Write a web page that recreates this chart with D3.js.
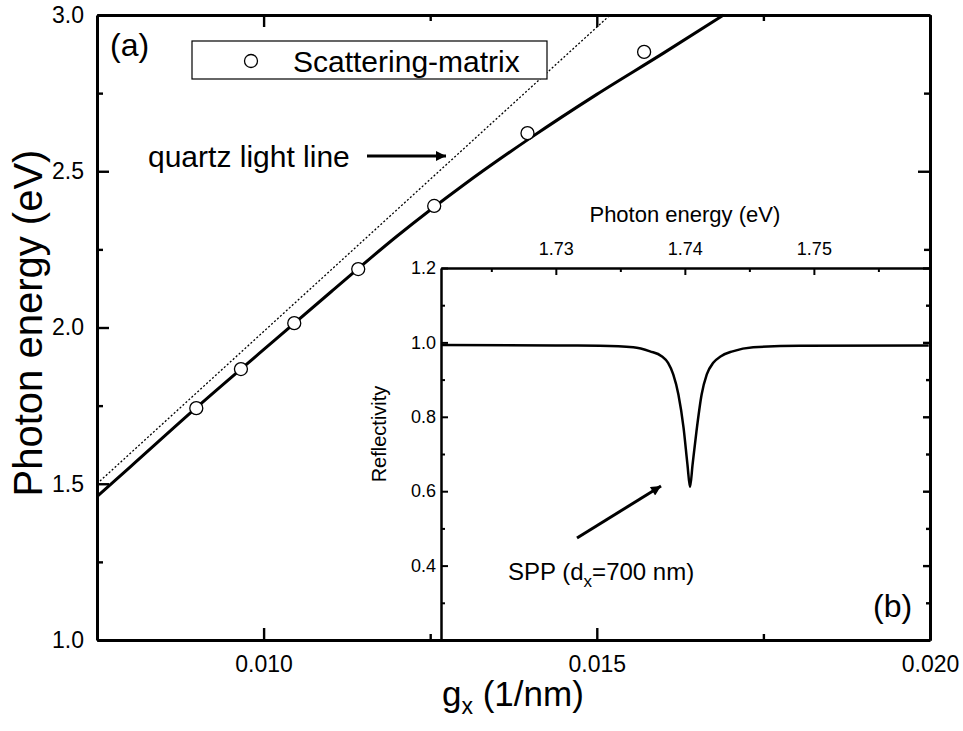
<!DOCTYPE html>
<html>
<head>
<meta charset="utf-8">
<script src="https://cdn.jsdelivr.net/npm/d3@7"></script>
<style>
  body { margin: 0; background: #fff; }
  svg { display: block; font-family: "Liberation Sans", Arial, sans-serif; }
</style>
</head>
<body>
<div id="chart"></div>
<script>
// (a) dispersion: solid SPP curve, quartz light line, scattering-matrix points
const sppCurve = [[0.0075, 1.459], [0.008, 1.554], [0.009, 1.745], [0.010, 1.929], [0.011, 2.112],
                  [0.012, 2.292], [0.013, 2.456], [0.014, 2.606], [0.015, 2.746], [0.016, 2.878], [0.0169, 3.0]];
const lightLine = [[0.0075, 1.50], [0.0152, 3.0]];
const smPoints = [[0.00899, 1.742], [0.00966, 1.867], [0.01046, 2.014], [0.01142, 2.187],
                  [0.01256, 2.389], [0.01396, 2.622], [0.01571, 2.882]];
const gxTicks = [0.010, 0.015, 0.020];
const gxMinor = [0.0125, 0.0175];
const eTicks = [1.0, 1.5, 2.0, 2.5, 3.0];
const eMinor = [1.25, 1.75, 2.25, 2.75];

// (b) reflectivity spectrum
const reflE = [1.7211, 1.7300, 1.7334, 1.7360, 1.7373, 1.7382, 1.7387, 1.7391, 1.7395, 1.7399, 1.7402,
               1.7404, 1.7406, 1.7409, 1.7413, 1.7417, 1.7422, 1.7428, 1.7437, 1.7453, 1.7489, 1.7589];
const reflR = [0.993, 0.992, 0.991, 0.987, 0.976, 0.963, 0.945, 0.914, 0.860, 0.770, 0.672,
               0.611, 0.672, 0.761, 0.860, 0.914, 0.945, 0.963, 0.976, 0.987, 0.991, 0.992];
const peTicks = [1.73, 1.74, 1.75];
const peMinor = [1.725, 1.735, 1.745, 1.755];
const rTicks = [0.4, 0.6, 0.8, 1.0, 1.2];
const rMinor = [0.3, 0.5, 0.7, 0.9, 1.1];

const width = 963, height = 731;
const svg = d3.select("#chart").append("svg")
    .attr("width", width)
    .attr("height", height);

const defs = svg.append("defs");
defs.append("marker")
    .attr("id", "head")
    .attr("markerUnits", "userSpaceOnUse")
    .attr("viewBox", "0 -5 10 10")
    .attr("refX", 10).attr("refY", 0)
    .attr("markerWidth", 20).attr("markerHeight", 10)
    .attr("orient", "auto")
    .append("path").attr("d", "M0,-5L10,0L0,5Z").attr("fill", "black");

// main scales
const x = d3.scaleLinear().domain([0.0075, 0.020]).range([97, 930]);
const y = d3.scaleLinear().domain([1.0, 3.0]).range([640, 15]);

function styleAxis(g, w) {
    g.select(".domain").attr("stroke-width", w).attr("stroke", "black");
    g.selectAll(".tick line").attr("stroke-width", w * 0.8).attr("stroke", "black");
    g.selectAll("text").attr("fill", "black");
}

// frame (top / right without labels)
svg.append("g").attr("transform", "translate(0,15)")
    .call(d3.axisTop(x).tickValues(gxTicks).tickSizeInner(-12).tickSizeOuter(0).tickFormat(""))
    .call(g => styleAxis(g, 3));
svg.append("g").attr("transform", "translate(0,15)")
    .call(d3.axisTop(x).tickValues(gxMinor).tickSizeInner(-6).tickSizeOuter(0).tickFormat(""))
    .call(g => g.select(".domain").remove())
    .call(g => styleAxis(g, 3));
svg.append("g").attr("transform", "translate(930,0)")
    .call(d3.axisRight(y).tickValues(eTicks).tickSizeInner(-12).tickSizeOuter(0).tickFormat(""))
    .call(g => styleAxis(g, 3));
svg.append("g").attr("transform", "translate(930,0)")
    .call(d3.axisRight(y).tickValues(eMinor).tickSizeInner(-6).tickSizeOuter(0).tickFormat(""))
    .call(g => g.select(".domain").remove())
    .call(g => styleAxis(g, 3));

// left axis
svg.append("g").attr("transform", "translate(97,0)")
    .call(d3.axisLeft(y).tickValues(eTicks).tickSizeInner(-12).tickSizeOuter(0)
        .tickPadding(13).tickFormat(d3.format(".1f")))
    .call(g => styleAxis(g, 3))
    .call(g => g.selectAll("text").attr("font-size", 23).attr("font-family", null));
svg.append("g").attr("transform", "translate(97,0)")
    .call(d3.axisLeft(y).tickValues(eMinor).tickSizeInner(-6).tickSizeOuter(0).tickFormat(""))
    .call(g => g.select(".domain").remove())
    .call(g => styleAxis(g, 3));

// light line and SPP curve
svg.append("path")
    .datum(lightLine)
    .attr("d", d3.line().x(d => x(d[0])).y(d => y(d[1])))
    .attr("fill", "none").attr("stroke", "black")
    .attr("stroke-width", 1.3).attr("stroke-dasharray", "2,2");

svg.append("path")
    .datum(sppCurve)
    .attr("d", d3.line().x(d => x(d[0])).y(d => y(d[1])).curve(d3.curveMonotoneX))
    .attr("fill", "none").attr("stroke", "black").attr("stroke-width", 3);

svg.selectAll("circle.sm")
    .data(smPoints)
    .enter().append("circle")
    .attr("class", "sm")
    .attr("cx", d => x(d[0])).attr("cy", d => y(d[1]))
    .attr("r", 6.5)
    .attr("fill", "white").attr("stroke", "black").attr("stroke-width", 1.3);

// legend
svg.append("rect")
    .attr("x", 192).attr("y", 41).attr("width", 355).attr("height", 38)
    .attr("fill", "white").attr("stroke", "black").attr("stroke-width", 1.2);
svg.append("circle")
    .attr("cx", 251).attr("cy", 61).attr("r", 6.5)
    .attr("fill", "white").attr("stroke", "black").attr("stroke-width", 1.3);
svg.append("text")
    .attr("x", 293).attr("y", 72).attr("font-size", 30)
    .text("Scattering-matrix");

svg.append("text").attr("x", 110).attr("y", 56).attr("font-size", 32).text("(a)");

svg.append("text").attr("x", 148).attr("y", 167).attr("font-size", 30).text("quartz light line");
svg.append("line")
    .attr("x1", 367).attr("y1", 156).attr("x2", 446).attr("y2", 156)
    .attr("stroke", "black").attr("stroke-width", 3)
    .attr("marker-end", "url(#head)");

// ---- inset (b) ----
const xi = d3.scaleLinear().domain([1.7211, 1.759]).range([441, 930]);
const yi = d3.scaleLinear().domain([0.2, 1.2]).range([640, 268]);

svg.append("rect")
    .attr("x", 441).attr("y", 268).attr("width", 489).attr("height", 372)
    .attr("fill", "white");

const inset = svg.append("g");

inset.append("g").attr("transform", "translate(0,268)")
    .call(d3.axisTop(xi).tickValues(peTicks).tickSizeInner(-7).tickSizeOuter(0)
        .tickPadding(13).tickFormat(d3.format(".2f")))
    .call(g => styleAxis(g, 2.5))
    .call(g => g.selectAll("text").attr("font-size", 18).attr("font-family", null));
inset.append("g").attr("transform", "translate(0,268)")
    .call(d3.axisTop(xi).tickValues(peMinor).tickSizeInner(-4).tickSizeOuter(0).tickFormat(""))
    .call(g => g.select(".domain").remove())
    .call(g => styleAxis(g, 2.5));

inset.append("g").attr("transform", "translate(441,0)")
    .call(d3.axisLeft(yi).tickValues(rTicks).tickSizeInner(-7).tickSizeOuter(0)
        .tickPadding(5).tickFormat(d3.format(".1f")))
    .call(g => styleAxis(g, 2.5))
    .call(g => g.selectAll("text").attr("font-size", 18).attr("font-family", null));
inset.append("g").attr("transform", "translate(441,0)")
    .call(d3.axisLeft(yi).tickValues(rMinor).tickSizeInner(-4).tickSizeOuter(0).tickFormat(""))
    .call(g => g.select(".domain").remove())
    .call(g => styleAxis(g, 2.5));

inset.append("g").attr("transform", "translate(930,0)")
    .call(d3.axisRight(yi).tickValues(rTicks).tickSizeInner(-7).tickSizeOuter(0).tickFormat(""))
    .call(g => styleAxis(g, 3));
inset.append("g").attr("transform", "translate(930,0)")
    .call(d3.axisRight(yi).tickValues(rMinor).tickSizeInner(-4).tickSizeOuter(0).tickFormat(""))
    .call(g => g.select(".domain").remove())
    .call(g => styleAxis(g, 3));

inset.append("path")
    .datum(reflE.map((e, i) => [e, reflR[i]]))
    .attr("d", d3.line().x(d => xi(d[0])).y(d => yi(d[1])).curve(d3.curveMonotoneX))
    .attr("fill", "none").attr("stroke", "black").attr("stroke-width", 2.5);

inset.append("text")
    .attr("x", xi(1.74)).attr("y", 222).attr("text-anchor", "middle").attr("font-size", 22)
    .text("Photon energy (eV)");
inset.append("text")
    .attr("transform", "translate(386,434) rotate(-90)")
    .attr("text-anchor", "middle").attr("font-size", 20)
    .text("Reflectivity");

const spp = inset.append("text").attr("x", 508).attr("y", 580).attr("font-size", 24);
spp.append("tspan").text("SPP (d");
spp.append("tspan").attr("font-size", 17).attr("dy", 7).text("x");
spp.append("tspan").attr("dy", -7).text("=700 nm)");

inset.append("line")
    .attr("x1", 577).attr("y1", 538).attr("x2", 661).attr("y2", 486)
    .attr("stroke", "black").attr("stroke-width", 3)
    .attr("marker-end", "url(#head)");

inset.append("text").attr("x", 873).attr("y", 617).attr("font-size", 32).text("(b)");

// bottom axis of main panel drawn last (its ticks show inside the inset)
svg.append("g").attr("transform", "translate(0,640)")
    .call(d3.axisBottom(x).tickValues(gxTicks).tickSizeInner(-12).tickSizeOuter(0)
        .tickPadding(16).tickFormat(d3.format(".3f")))
    .call(g => styleAxis(g, 3))
    .call(g => g.selectAll("text").attr("font-size", 23).attr("font-family", null));
svg.append("g").attr("transform", "translate(0,640)")
    .call(d3.axisBottom(x).tickValues(gxMinor).tickSizeInner(-6).tickSizeOuter(0).tickFormat(""))
    .call(g => g.select(".domain").remove())
    .call(g => styleAxis(g, 3));

// axis titles
svg.append("text")
    .attr("transform", "translate(42,323) rotate(-90)")
    .attr("text-anchor", "middle").attr("font-size", 40)
    .text("Photon energy (eV)");

const gx = svg.append("text").attr("x", 442).attr("y", 706).attr("font-size", 35);
gx.append("tspan").text("g");
gx.append("tspan").attr("font-size", 23).attr("dy", 8).text("x");
gx.append("tspan").attr("dy", -8).text(" (1/nm)");
</script>
</body>
</html>
